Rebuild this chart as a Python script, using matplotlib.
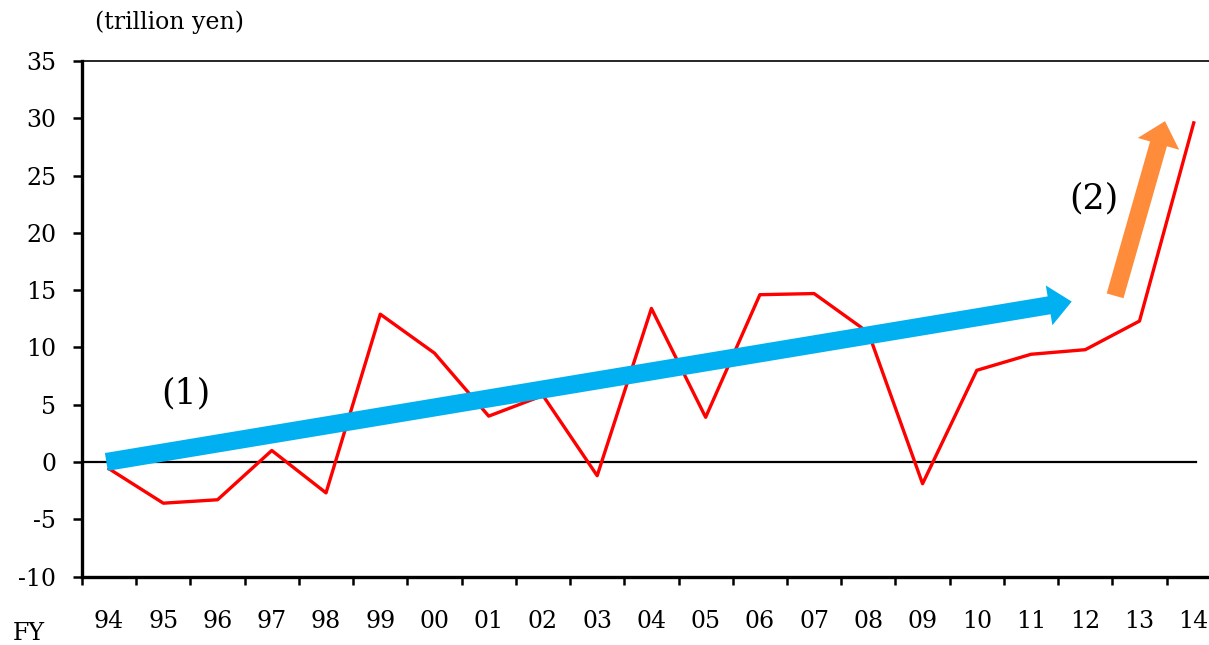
import matplotlib
matplotlib.use('Agg')
import matplotlib.pyplot as plt

plt.rcParams['font.family'] = ['DejaVu Serif']
plt.rcParams['axes.unicode_minus'] = False

years = ['94', '95', '96', '97', '98', '99', '00', '01', '02', '03', '04',
         '05', '06', '07', '08', '09', '10', '11', '12', '13', '14']
values = [-0.6, -3.6, -3.3, 1.0, -2.7, 12.9, 9.5, 4.0, 5.8, -1.2, 13.4,
          3.9, 14.6, 14.7, 11.3, -1.9, 8.0, 9.4, 9.8, 12.3, 29.6]

# trend arrows (tail -> tip), in category / value units
trend1 = [(-0.05, 0.0), (17.75, 14.0)]
trend2 = [(18.55, 14.5), (19.47, 29.75)]

fig = plt.figure(figsize=(12.09, 6.45), dpi=100)
ax = fig.add_axes([0.0678, 0.1062, 1.0098 - 0.0678, 0.9054 - 0.1062])

x = list(range(len(years)))
ax.plot(x, values, color='#FF0000', lw=2.4, zorder=3)
ax.axhline(0, xmin=0, xmax=0.978, color='black', lw=1.6, zorder=2)

ax.annotate('', xy=trend1[1], xytext=trend1[0],
            arrowprops=dict(arrowstyle='simple,head_length=16.5,head_width=29,tail_width=13',
                            mutation_scale=1, color='#00B0F0', lw=0,
                            shrinkA=0, shrinkB=0), zorder=4)
ax.annotate('', xy=trend2[1], xytext=trend2[0],
            arrowprops=dict(arrowstyle='simple,head_length=17,head_width=31,tail_width=12.6',
                            mutation_scale=1, color='#FF8C3A', lw=0,
                            shrinkA=0, shrinkB=0), zorder=4)

ax.text(1.42, 6.0, '(1)', fontsize=25, ha='center', va='center')
ax.text(18.16, 23.0, '(2)', fontsize=25, ha='center', va='center')

ax.set_xlim(-0.5, 20.5)
ax.set_ylim(-10, 35)
ax.set_yticks(range(-10, 36, 5))
ax.set_xticks(x)
ax.set_xticklabels(years)
ax.set_xticks([i - 0.5 for i in range(len(years) + 1)], minor=True)
ax.tick_params(axis='x', which='major', length=0, pad=24, labelsize=17)
ax.tick_params(axis='x', which='minor', direction='out', length=6, width=1.8)
ax.tick_params(axis='y', direction='out', length=6.5, width=1.8, pad=12, labelsize=17)

ax.spines['left'].set_linewidth(2.4)
ax.spines['bottom'].set_linewidth(2.4)
ax.spines['top'].set_linewidth(1.2)
ax.spines['right'].set_visible(False)

fig.text(95 / 1209, 1 - 22 / 645, '(trillion yen)', fontsize=17, ha='left', va='center')
fig.text(29 / 1209, 1 - 633 / 645, 'FY', fontsize=17, ha='center', va='center')

fig.savefig('out.png', dpi=100)
